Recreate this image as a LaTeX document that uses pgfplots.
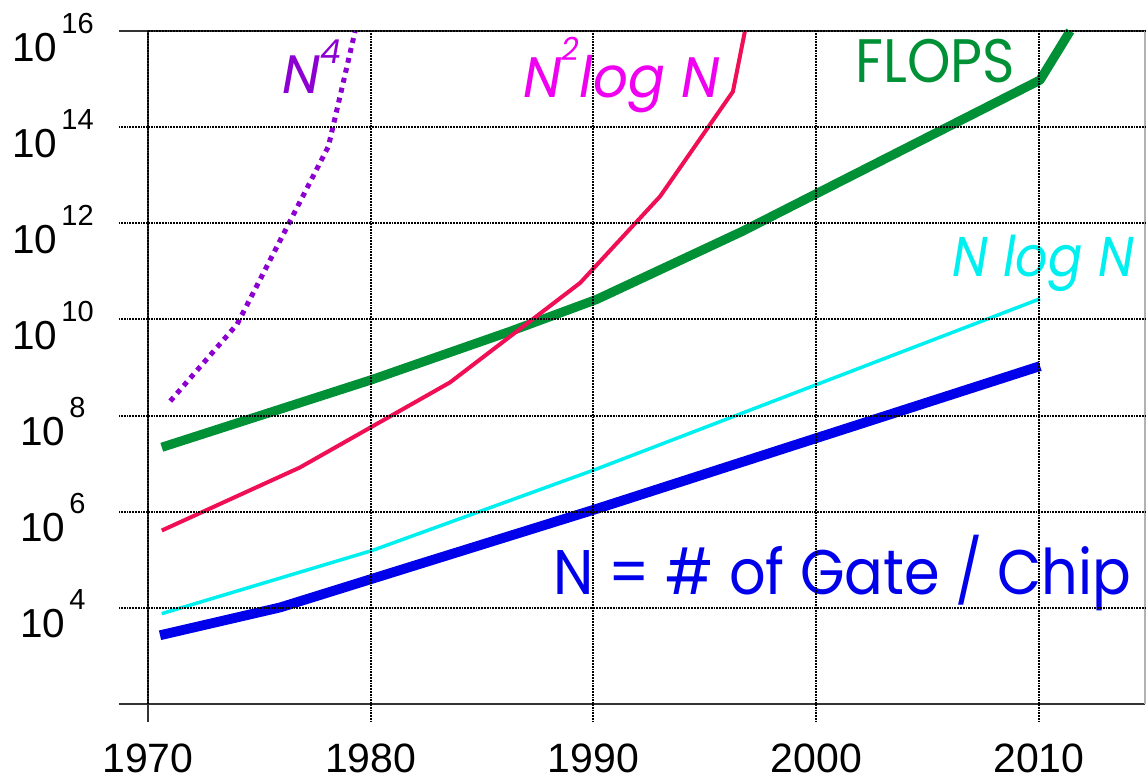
\documentclass[border=0pt]{standalone}
\usepackage{pgfplots}
\pgfplotsset{compat=1.18}
\usepackage{graphicx}
\usepackage{fontspec}
\setmainfont{Liberation Sans}
\newfontfamily\gothic{Poppins}
\definecolor{cblue}{RGB}{0,0,235}
\definecolor{cgreen}{RGB}{0,145,55}
\definecolor{cred}{RGB}{240,15,85}
\definecolor{cmag}{RGB}{240,0,240}
\definecolor{ccyan}{RGB}{0,240,240}
\definecolor{cpurple}{RGB}{140,0,210}
\newcommand{\tl}[1]{\fontsize{20.25}{22}\selectfont 10\hspace{2pt}{\fontsize{14.5}{15}\selectfont\raisebox{14pt}{#1}}}
\tikzset{axisl/.style={line width=1pt, black!80},
         gridl/.style={black, line width=1pt, dash pattern=on 0.9pt off 0.5pt}}
\begin{document}
\begin{tikzpicture}
\begin{axis}[
  at={(0,0)}, anchor=south west,
  scale only axis, width=498.5pt, height=336.5pt,
  xmin=1970, xmax=2014.76, ymode=log, ymin=1e2, ymax=1e16,
  xtick={1970,1980,1990,2000,2010},
  xticklabels={1970,1980,1990,2000,2010},
  ytick={1e4,1e6,1e8,1e10,1e12,1e14,1e16},
  yticklabels={\tl{4},\tl{6},\tl{8},\tl{10},\tl{12},\tl{14},\tl{16}},
  major tick length=0pt,
  grid=major, major grid style={gridl},
  axis line style={draw=none},
  axis on top, clip=false,
  xticklabel style={font=\fontsize{20.5}{22}\selectfont, anchor=north, inner sep=0pt, yshift=-19.5pt},
  yticklabel style={anchor=base, inner sep=0pt, xshift=-47.5pt, yshift=-15pt},
]
% axis frame and tick extensions
\draw[axisl] ([xshift=-14.5pt]rel axis cs:0,1) -- (rel axis cs:1,1);
\draw[axisl] ([xshift=-14.5pt]rel axis cs:0,0) -- (rel axis cs:1,0);
\draw[axisl] ([yshift=-9pt]rel axis cs:0,0) -- (rel axis cs:0,1);
\draw[black!30, line width=0.6pt] (rel axis cs:1,0) -- (rel axis cs:1,1);
\pgfplotsinvokeforeach{1980,1990,2000,2010}{\draw[gridl] (axis cs:#1,1e2) -- ([yshift=-9pt]axis cs:#1,1e2);}
\pgfplotsinvokeforeach{1e4,1e6,1e8,1e10,1e12,1e14}{\draw[gridl] (axis cs:1970,#1) -- ([xshift=-14.5pt]axis cs:1970,#1);}

% FLOPS
\addplot[draw=cgreen, line width=4.6pt, line join=round] coordinates {
 (1970.62,2.19e7) (1980.1,5.69e8) (1986.25,5.62e9) (1990.16,2.63e10)
 (1996.67,6.76e11) (2010.05,9.55e14) (2011.4,1e16)};
% N^2 log N
\addplot[draw=cred, line width=2pt, line join=round] coordinates {
 (1970.62,4.07e5) (1976.82,8.32e6) (1983.56,4.90e8) (1989.4,5.75e10)
 (1992.99,3.63e12) (1996.26,5.50e14) (1996.8,1e16)};
% N log N
\addplot[draw=ccyan, line width=1.75pt, line join=round] coordinates {
 (1970.62,7.59e3) (1980.1,1.58e5) (1990.15,7.76e6) (2010.05,2.69e10)};
% N
\addplot[draw=cblue, line width=4.9pt, line join=round] coordinates {
 (1970.54,2.69e3) (1975.93,1.02e4) (1990.15,1.15e6) (2010.05,1.07e9)};
% N^4
\addplot[draw=cpurple, line width=2.5pt, dash pattern=on 2.5pt off 2.6pt] coordinates {
 (1971,2.0e8) (1974,7.94e9) (1978.1,3.98e13) (1979.3,1e16)};

\node[anchor=base west, inner sep=0pt, text=cpurple, font=\gothic\itshape\fontsize{27}{27}\selectfont]
  at (axis cs:1976.02,5.13e14) {N{\fontsize{16.5}{17}\selectfont\raisebox{15pt}{4}}};
\node[anchor=base west, inner sep=0pt, text=cmag, font=\gothic\itshape\fontsize{28.5}{28}\selectfont]
  at (axis cs:1986.84,4.07e14) {\scalebox{0.96}[1]{N{\fontsize{16}{17}\selectfont\raisebox{18.5pt}{2}}log N}};
\node[anchor=base west, inner sep=0pt, text=cgreen, font=\gothic\fontsize{30.7}{30}\selectfont]
  at (axis cs:2001.74,8.32e14) {\scalebox{0.9}[1]{FLOPS}};
\node[anchor=base west, inner sep=0pt, text=ccyan, font=\gothic\itshape\fontsize{28}{28}\selectfont]
  at (axis cs:2006.09,7.76e10) {\scalebox{0.91}[1]{N log N}};
\node[anchor=base west, inner sep=0pt, text=cblue, font=\gothic\fontsize{31.5}{31}\selectfont]
  at (axis cs:1988.18,1.86e4) {\scalebox{0.91}[1]{N = \# of Gate / Chip}};
\end{axis}
\pgfresetboundingbox
\path (-74pt,-37pt) rectangle (499pt,352pt);
\end{tikzpicture}
\end{document}
